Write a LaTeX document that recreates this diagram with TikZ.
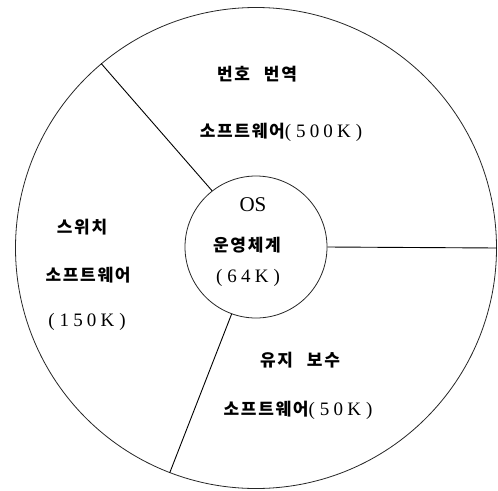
\documentclass[tikz,border=0pt]{standalone}
\usepackage{fontspec}
\newfontfamily\kr[LetterSpace=10]{Noto Sans CJK KR}
\newfontfamily\lat[LetterSpace=22]{Liberation Serif}
\newfontfamily\latn{Liberation Serif}
\newcommand{\K}[1]{{\kr\bfseries\fontsize{17}{19}\selectfont #1}}
\newcommand{\N}[1]{{\lat\fontsize{19}{22}\selectfont #1}}
\newcommand{\gp}{\hspace{5pt}}
\tikzset{
  ring/.style={circle, draw=black!85, line width=0.8pt, inner sep=0pt},
  spoke/.style={draw=black, line width=0.9pt},
  lbl/.style={inner sep=0pt, anchor=center}
}
\begin{document}
\begin{tikzpicture}[x=1pt,y=-1pt]
\useasboundingbox (0,0) rectangle (498,490);
\node[ring, minimum size=481pt] (outer) at (256,248) {};
\node[ring, minimum size=142pt] (os) at (256,247) {};
\draw[spoke] (os.128) -- (outer.130);
\draw[spoke] (os.0) -- (outer.-0.5);
\draw[spoke] (os.-110) -- (outer.-111);
\node[lbl] (t1) at (257,74) {\K{번호\hspace{14pt}번역}};
\node[lbl] (t2) at (281,132) {\K{소프트웨어}\N{(\gp500K\gp)}};
\node[lbl] (t3) at (253,205) {{\latn\fontsize{21}{24}\selectfont OS}};
\node[lbl] (t4) at (247,245) {\K{운영체계}};
\node[lbl] (t5) at (248,278) {\N{(\gp64K\gp)}};
\node[lbl] (t6) at (82,227) {\K{스위치}};
\node[lbl] (t7) at (88,275) {\K{소프트웨어}};
\node[lbl] (t8) at (87,322) {\N{(\gp150K\gp)}};
\node[lbl] (t9) at (300,360) {\K{유지\hspace{14pt}보수}};
\node[lbl] (t10) at (298,410) {\K{소프트웨어}\N{(\gp50K\gp)}};
\end{tikzpicture}
\end{document}
